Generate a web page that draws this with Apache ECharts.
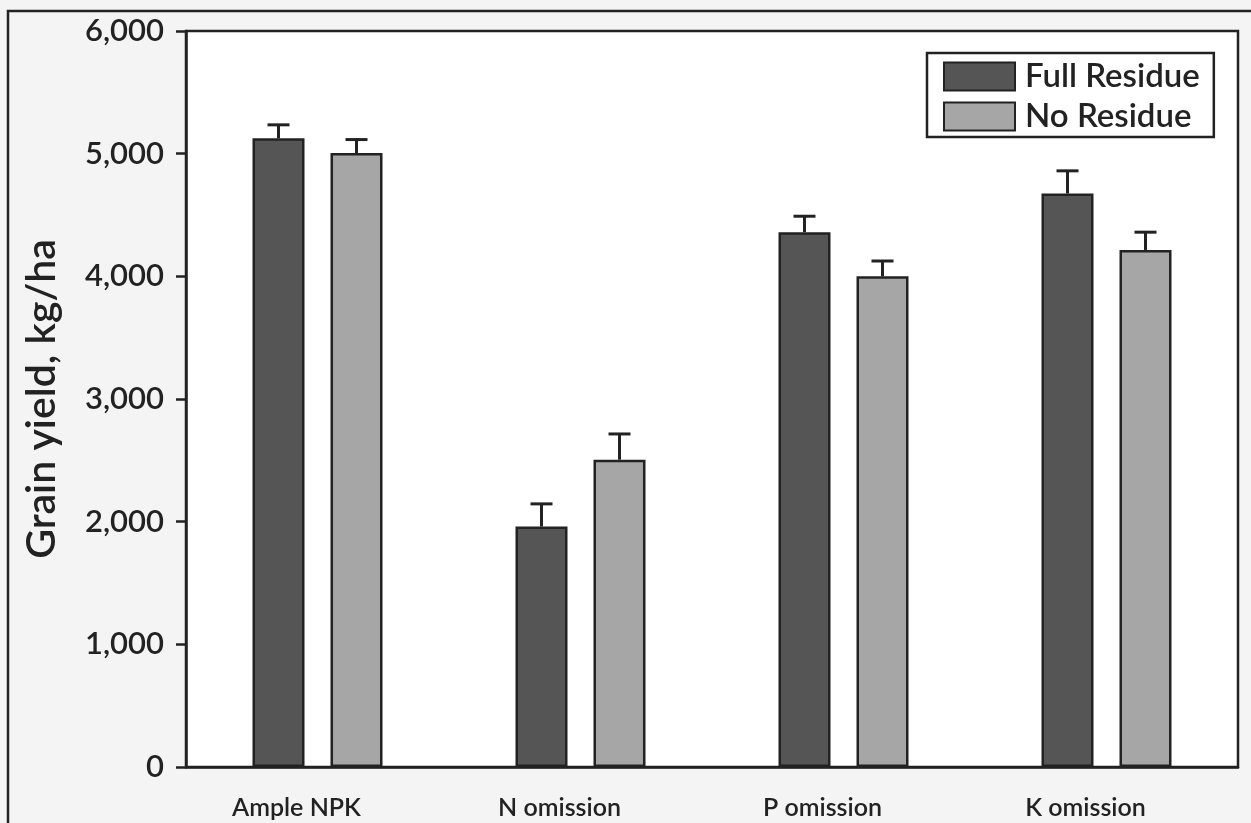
<!DOCTYPE html>
<html>
<head>
<meta charset="utf-8">
<script src="https://cdn.jsdelivr.net/npm/echarts@6/dist/echarts.min.js"></script>
<style>
  html, body { margin: 0; padding: 0; background: #f4f4f4; }
  #chart { width: 1251px; height: 823px; }
</style>
</head>
<body>
<div id="chart"></div>
<script>
(function () {

    var categories = ['Ample NPK', 'N omission', 'P omission', 'K omission'];
    var fullResidue = [5125, 1960, 4360, 4675];
    var fullErr = [110, 185, 130, 185];
    var noResidue = [5005, 2505, 4000, 4215];
    var noErr = [110, 210, 125, 145];
    var yTicks = [0, 1000, 2000, 3000, 4000, 5000, 6000];

    var ink = '#222';
    var font = 'Lato';
    var weight = 600;

    // error bars, drawn on top of each bar, offset to the bar's slot
    function errData(vals, errs) {
        var d = [];
        for (var i = 0; i < vals.length; i++) {
            d.push([i, vals[i], errs[i]]);
        }
        return d;
    }
    function errRender(offset) {
        return function (params, api) {
            var base = api.coord([api.value(0), api.value(1)]);
            var top = api.coord([api.value(0), api.value(1) + api.value(2)]);
            var x = base[0] + offset;
            var style = {stroke: ink, lineWidth: 3};
            return {
                type: 'group',
                children: [
                    {type: 'line', shape: {x1: x, y1: base[1], x2: x, y2: top[1]}, style: style},
                    {type: 'line', shape: {x1: x - 11, y1: top[1], x2: x + 11, y2: top[1]}, style: style}
                ]
            };
        };
    }

    var option = {
        backgroundColor: '#f4f4f4',
        animation: false,
        textStyle: {fontFamily: font},
        graphic: [
            {
                type: 'rect',
                shape: {x: 8, y: 11, width: 1300, height: 900},
                style: {fill: 'none', stroke: ink, lineWidth: 2.5},
                silent: true
            }
        ],
        grid: {
            left: 186, right: 13, top: 31, bottom: 56,
            show: true,
            backgroundColor: '#fff',
            borderColor: ink,
            borderWidth: 2.5
        },
        legend: {
            orient: 'vertical',
            left: 927,
            top: 53,
            padding: [7, 14, 4, 16],
            itemWidth: 71,
            itemHeight: 28,
            itemGap: 7,
            backgroundColor: '#fff',
            borderColor: ink,
            borderWidth: 2.5,
            borderRadius: 0,
            icon: 'rect',
            data: ['Full Residue', 'No Residue'],
            textStyle: {fontFamily: font, fontSize: 33, fontWeight: weight, color: ink, padding: [0, 0, 0, 5]}
        },
        xAxis: {
            type: 'category',
            data: categories,
            axisLine: {show: true, lineStyle: {color: ink, width: 2.5}},
            axisTick: {show: false},
            axisLabel: {fontFamily: font, fontSize: 25, fontWeight: weight, color: ink, margin: 28, padding: [0, 42, 0, 0]}
        },
        yAxis: {
            type: 'value',
            min: 0,
            max: 6000,
            interval: 1000,
            name: 'Grain yield, kg/ha',
            nameLocation: 'middle',
            nameGap: 124,
            nameTextStyle: {fontFamily: font, fontSize: 41, fontWeight: weight, color: ink},
            axisLine: {show: true, lineStyle: {color: ink, width: 2.5}},
            axisTick: {show: true, length: 10, lineStyle: {color: ink, width: 2.5}},
            splitLine: {show: false},
            axisLabel: {
                fontFamily: font, fontSize: 31, fontWeight: weight, color: ink, margin: 22,
                formatter: function (v) {
                    return yTicks.indexOf(v) >= 0 ? v.toLocaleString('en-US') : '';
                }
            }
        },
        series: [
            {
                name: 'Full Residue',
                type: 'bar',
                data: fullResidue,
                barWidth: 52,
                barGap: '50%',
                itemStyle: {color: '#555555', borderColor: ink, borderWidth: 2.5}
            },
            {
                name: 'No Residue',
                type: 'bar',
                data: noResidue,
                barWidth: 52,
                itemStyle: {color: '#a6a6a6', borderColor: ink, borderWidth: 2.5}
            },
            {
                type: 'custom',
                renderItem: errRender(-39),
                data: errData(fullResidue, fullErr),
                z: 3,
                silent: true
            },
            {
                type: 'custom',
                renderItem: errRender(39),
                data: errData(noResidue, noErr),
                z: 3,
                silent: true
            }
        ]
    };

    var chart = echarts.init(document.getElementById('chart'));
    chart.setOption(option);

})();
</script>
</body>
</html>
